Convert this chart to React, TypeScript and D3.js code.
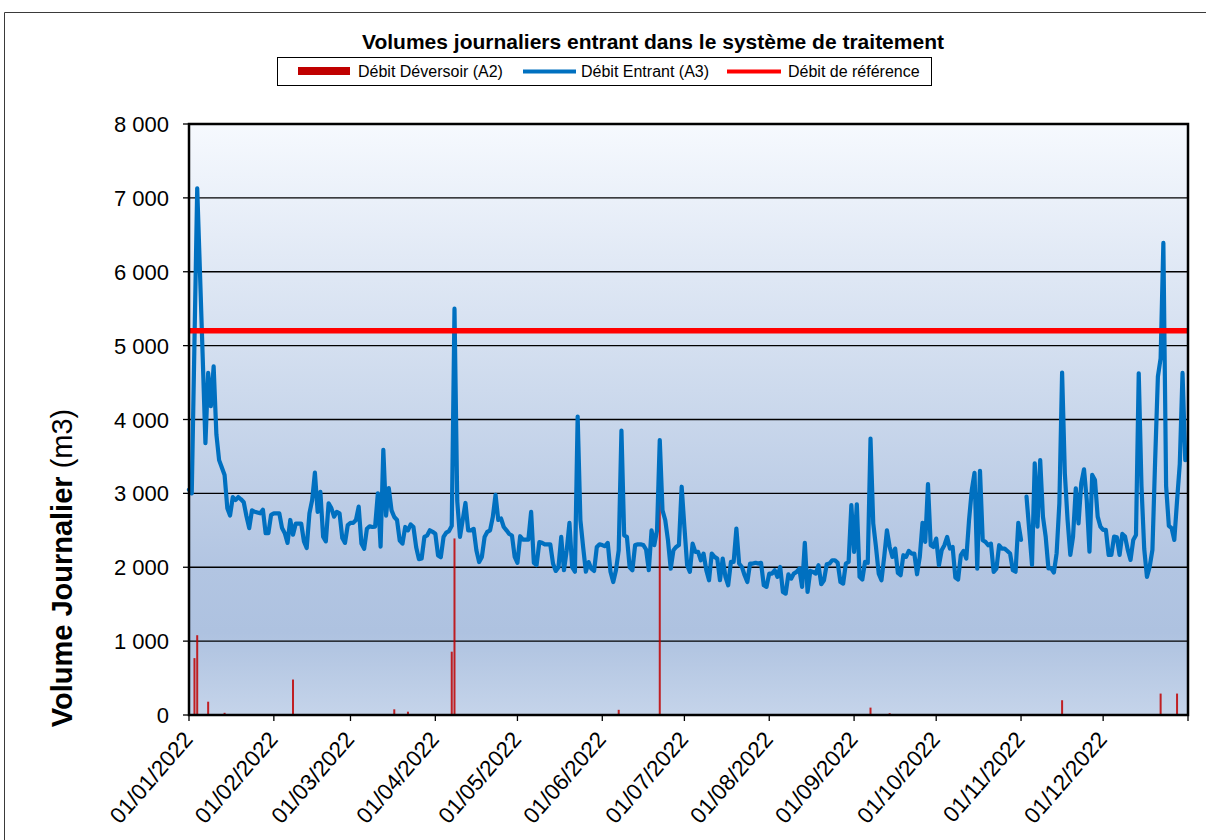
import { useEffect, useRef } from "react"
import * as d3 from "d3"

// Daily inflow volumes (m3), one array per month of 2022 — null = no measurement
const inflowJan = [3050, 3000, 5050, 7130, 6000, 4850, 3680, 4630, 4180, 4720, 3800, 3450, 3350, 3250, 2800, 2700, 2950, 2910, 2950, 2920, 2880, 2690, 2530, 2770, 2750, 2740, 2730, 2780, 2460, 2460, 2710]
const inflowFeb = [2730, 2730, 2730, 2530, 2460, 2330, 2640, 2440, 2590, 2590, 2590, 2350, 2260, 2730, 2910, 3280, 2750, 3020, 2415, 2350, 2865, 2800, 2685, 2750, 2730, 2395, 2330, 2570]
const inflowMar = [2600, 2600, 2640, 2820, 2320, 2250, 2520, 2555, 2545, 2550, 3000, 2280, 3590, 2700, 3070, 2770, 2680, 2640, 2360, 2320, 2545, 2500, 2580, 2545, 2270, 2110, 2120, 2410, 2430, 2500, 2480]
const inflowApr = [2454, 2160, 2136, 2410, 2470, 2490, 2560, 5500, 2900, 2410, 2640, 2870, 2500, 2500, 2520, 2230, 2070, 2140, 2410, 2480, 2500, 2680, 2980, 2640, 2660, 2545, 2500, 2450, 2430, 2140]
const inflowMay = [2060, 2420, 2375, 2375, 2375, 2750, 2060, 2030, 2340, 2330, 2310, 2310, 2310, 2050, 1950, 2000, 2410, 1960, 2230, 2600, 2000, 1940, 4040, 2640, 2275, 1940, 2070, 1980, 1950, 2275, 2310]
const inflowJun = [2300, 2285, 2330, 1940, 1800, 1960, 2230, 3850, 2430, 2410, 2000, 1960, 2300, 2310, 2310, 2300, 2240, 1960, 2500, 2300, 2500, 3720, 2770, 2640, 2365, 1980, 2230, 2275, 2300, 3090]
const inflowJul = [2546, 2027, 1937, 2320, 2208, 2208, 2095, 2185, 1960, 1824, 2185, 2140, 2117, 1824, 2117, 1870, 1756, 2072, 2072, 2524, 2050, 2004, 1892, 1800, 2050, 2050, 2060, 2050, 2060, 1756, 1734]
const inflowAug = [1914, 1914, 1960, 1870, 2004, 1666, 1643, 1905, 1846, 1914, 1937, 1982, 1734, 2330, 1666, 1950, 1937, 1914, 2027, 1770, 1824, 2040, 2050, 2095, 2095, 2060, 1800, 1778, 2050, 2072, 2840]
const inflowSep = [2208, 2853, 1870, 1833, 2072, 2060, 3743, 2591, 2275, 1914, 1824, 2140, 2500, 2275, 2140, 2253, 1923, 1892, 2163, 2140, 2221, 2185, 2185, 1905, 2140, 2600, 2343, 3124, 2298, 2275]
const inflowOct = [2388, 2027, 2230, 2298, 2411, 2253, 2275, 1860, 1833, 2163, 2221, 2117, 2637, 3043, 3278, 1982, 3305, 2365, 2343, 2298, 2320, 1937, 1982, 2298, 2253, 2253, 2220, 2185, 1960, 1940, 2600]
const inflowNov = [2370, null, 2956, 2500, 2032, 3407, 2550, 3452, 2685, 2415, 1986, 1986, 1928, 2190, 2866, 4634, 3272, 2640, 2167, 2415, 3069, 2595, 3136, 3326, 2911, 2212, 3250, 3181, 2685, 2550]
const inflowDec = [2505, 2505, 2167, 2167, 2415, 2405, 2167, 2451, 2415, 2235, 2099, 2370, 2437, 4624, 3100, 2250, 1870, 2009, 2235, 3450, 4580, 4830, 6390, 3100, 2560, 2530, 2370, 2900, 3400, 4630, 3450]

// Overflow (A2) days
const overflowDates = ["2022-01-03", "2022-01-04", "2022-01-08", "2022-01-14", "2022-02-08", "2022-03-17", "2022-03-22", "2022-04-07", "2022-04-08", "2022-06-07", "2022-06-22", "2022-09-07", "2022-09-14", "2022-10-13", "2022-11-16", "2022-12-22", "2022-12-28"]
const overflowValues = [770, 1080, 180, 30, 480, 77, 45, 857, 2390, 70, 2900, 100, 25, 10, 200, 290, 290]

const referenceFlow = 5200

const yTickValues = [0, 1000, 2000, 3000, 4000, 5000, 6000, 7000, 8000]
const monthTicks = ["2022-01-01", "2022-02-01", "2022-03-01", "2022-04-01", "2022-05-01", "2022-06-01", "2022-07-01", "2022-08-01", "2022-09-01", "2022-10-01", "2022-11-01", "2022-12-01"]

const legendLabels = ["Débit Déversoir (A2)", "Débit Entrant (A3)", "Débit de référence"]
const chartTitle = "Volumes journaliers entrant dans le système de traitement"

export default function App() {
  const svgRef = useRef<SVGSVGElement>(null)

  useEffect(() => {
    if (!svgRef.current) return
    const svg = d3.select(svgRef.current)
    svg.selectAll("*").remove()

    const font = "'Liberation Sans', Arial, sans-serif"
    const plot = { left: 189, right: 1188, top: 124, bottom: 715 }
    const parse = d3.timeParse("%Y-%m-%d")
    const start = new Date(2022, 0, 1)

    const x = d3.scaleTime().domain([start, new Date(2023, 0, 1)]).range([plot.left, plot.right])
    const y = d3.scaleLinear().domain([0, 8000]).range([plot.bottom, plot.top])

    const inflow = [
      ...inflowJan, ...inflowFeb, ...inflowMar, ...inflowApr, ...inflowMay, ...inflowJun,
      ...inflowJul, ...inflowAug, ...inflowSep, ...inflowOct, ...inflowNov, ...inflowDec,
    ].map((v, i) => ({ date: d3.timeDay.offset(start, i), value: v as number | null }))

    const fr = d3.formatLocale({ decimal: ",", thousands: "\u00a0", grouping: [3], currency: ["", " €"] })
    const fmtY = fr.format(",")
    const fmtX = d3.timeFormat("%d/%m/%Y")

    // * outer frame
    svg.append("path").attr("d", "M4.5,840V12.5H1206").attr("fill", "none").attr("stroke", "#3a3a3a").attr("stroke-width", 1)

    // * plot background gradient
    const defs = svg.append("defs")
    const grad = defs.append("linearGradient").attr("id", "bg-grad").attr("x1", 0).attr("x2", 0).attr("y1", 0).attr("y2", 1)
    const stops: [string, string][] = [["0%", "#f6f9fe"], ["45%", "#cddaed"], ["75%", "#b2c5e2"], ["86%", "#aec2e0"], ["100%", "#c5d4ea"]]
    stops.forEach(([o, c]) => grad.append("stop").attr("offset", o).attr("stop-color", c))

    svg.append("rect")
      .attr("x", plot.left).attr("y", plot.top)
      .attr("width", plot.right - plot.left).attr("height", plot.bottom - plot.top)
      .attr("fill", "url(#bg-grad)")

    // * gridlines
    svg.append("g").selectAll("line").data(yTickValues).join("line")
      .attr("x1", plot.left).attr("x2", plot.right)
      .attr("y1", (d) => y(d)).attr("y2", (d) => y(d))
      .attr("stroke", "#000").attr("stroke-width", 1.3)

    // * overflow bars
    svg.append("g").selectAll("rect").data(overflowDates.map((d, i) => ({ date: parse(d)!, value: overflowValues[i] }))).join("rect")
      .attr("x", (d) => x(d.date) - 1)
      .attr("width", 2)
      .attr("y", (d) => y(d.value))
      .attr("height", (d) => y(0) - y(d.value))
      .attr("fill", "#c00000")
      .attr("opacity", 0.85)

    // * inflow line
    const line = d3.line<{ date: Date; value: number | null }>()
      .defined((d) => d.value != null)
      .x((d) => x(d.date))
      .y((d) => y(d.value as number))
    svg.append("path").datum(inflow)
      .attr("d", line)
      .attr("fill", "none")
      .attr("stroke", "#0070c0")
      .attr("stroke-width", 4.2)
      .attr("stroke-linejoin", "round")
      .attr("stroke-linecap", "round")

    // * reference line
    svg.append("line")
      .attr("x1", plot.left).attr("x2", plot.right)
      .attr("y1", y(referenceFlow)).attr("y2", y(referenceFlow))
      .attr("stroke", "#ff0000").attr("stroke-width", 5.5)

    // * plot frame
    svg.append("rect")
      .attr("x", plot.left).attr("y", plot.top)
      .attr("width", plot.right - plot.left).attr("height", plot.bottom - plot.top)
      .attr("fill", "none").attr("stroke", "#000").attr("stroke-width", 2.5)

    // * y axis ticks + labels
    const yAxis = svg.append("g")
    yAxis.selectAll("line").data(yTickValues).join("line")
      .attr("x1", plot.left - 6).attr("x2", plot.left)
      .attr("y1", (d) => y(d)).attr("y2", (d) => y(d))
      .attr("stroke", "#000").attr("stroke-width", 1.3)
    yAxis.selectAll("text").data(yTickValues).join("text")
      .attr("x", 169).attr("y", (d) => y(d) + 8)
      .attr("text-anchor", "end")
      .attr("font-family", font).attr("font-size", 22).attr("fill", "#000")
      .text((d) => fmtY(d))

    // * x axis ticks + labels
    const tickDates = monthTicks.map((d) => parse(d)!)
    const xAxis = svg.append("g")
    xAxis.selectAll("line").data([...tickDates, new Date(2023, 0, 1)]).join("line")
      .attr("x1", (d) => x(d)).attr("x2", (d) => x(d))
      .attr("y1", plot.bottom).attr("y2", plot.bottom + 6)
      .attr("stroke", "#000").attr("stroke-width", 1.3)
    xAxis.selectAll("text").data(tickDates).join("text")
      .attr("transform", (d) => `translate(${x(d) + 5},${740}) rotate(-49)`)
      .attr("text-anchor", "end")
      .attr("font-family", font).attr("font-size", 22.5).attr("fill", "#000")
      .text((d) => fmtX(d))

    // * y axis title
    const yTitle = svg.append("text")
      .attr("transform", "translate(72,568) rotate(-90)")
      .attr("text-anchor", "middle")
      .attr("font-family", font).attr("font-size", 29).attr("fill", "#000")
    yTitle.append("tspan").attr("font-weight", "bold").text("Volume Journalier ")
    yTitle.append("tspan").text("(m3)")

    // * title
    svg.append("text")
      .attr("x", 653).attr("y", 49)
      .attr("text-anchor", "middle")
      .attr("font-family", font).attr("font-size", 21).attr("font-weight", "bold").attr("fill", "#000")
      .text(chartTitle)

    // * legend
    const legend = svg.append("g")
    legend.append("rect")
      .attr("x", 277.5).attr("y", 57.5).attr("width", 654).attr("height", 28)
      .attr("fill", "#fff").attr("stroke", "#000").attr("stroke-width", 1)
    legend.append("rect").attr("x", 298).attr("y", 67).attr("width", 52).attr("height", 8).attr("fill", "#c00000")
    legend.append("line").attr("x1", 523).attr("x2", 576).attr("y1", 71.5).attr("y2", 71.5).attr("stroke", "#0070c0").attr("stroke-width", 4)
    legend.append("line").attr("x1", 727).attr("x2", 781).attr("y1", 71.5).attr("y2", 71.5).attr("stroke", "#ff0000").attr("stroke-width", 4)
    const legendX = [358, 581, 788]
    legend.selectAll("text.lg").data(legendLabels).join("text")
      .attr("class", "lg")
      .attr("x", (_, i) => legendX[i]).attr("y", 77)
      .attr("font-family", font).attr("font-size", 16).attr("fill", "#000")
      .text((d) => d)
  }, [])

  return <svg ref={svgRef} width={1206} height={840} style={{ position: "absolute", left: 0, top: 0, background: "#fff" }} />
}
